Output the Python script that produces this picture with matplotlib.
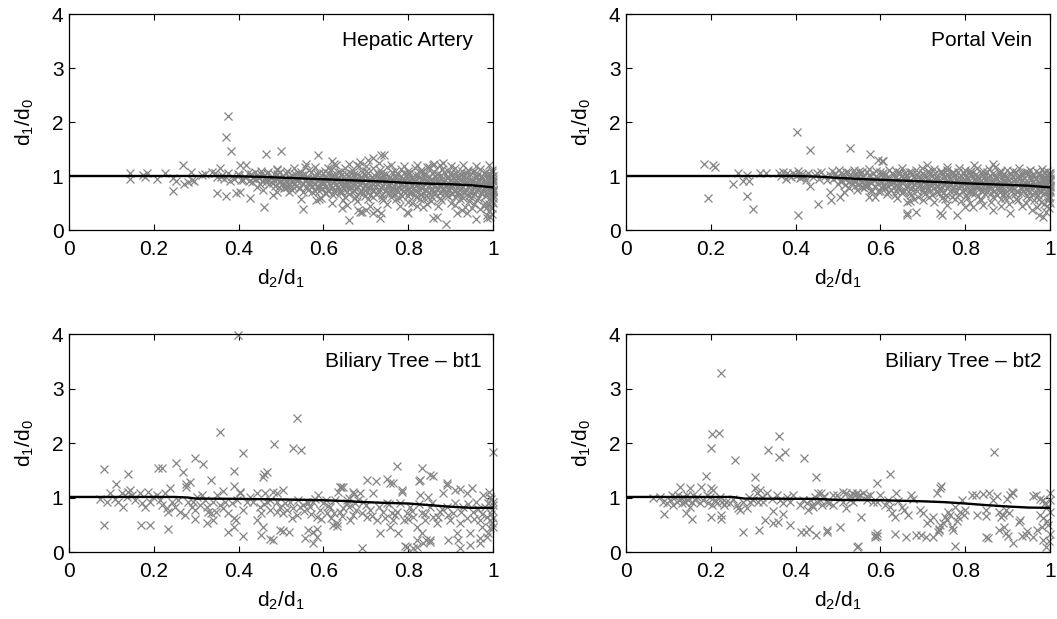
import matplotlib
matplotlib.use("Agg")
import matplotlib.pyplot as plt
import numpy as np

plt.rcParams['font.family'] = ['Liberation Sans', 'DejaVu Sans']
plt.rcParams['mathtext.fontset'] = 'custom'
plt.rcParams['mathtext.rm'] = 'Liberation Sans'
plt.rcParams['mathtext.it'] = 'Liberation Sans'

titles = ["Hepatic Artery", "Portal Vein", "Biliary Tree \u2013 bt1", "Biliary Tree \u2013 bt2"]
x_ticks = [0, 0.2, 0.4, 0.6, 0.8, 1]
x_tick_labels = ["0", "0.2", "0.4", "0.6", "0.8", "1"]
y_ticks = [0, 1, 2, 3, 4]

# ---------------- Hepatic Artery ----------------
ha_pts = [
    (0.144, 1.06), (0.144, 0.94), (0.175, 1.02), (0.185, 1.05), (0.18, 0.98), (0.207, 0.94),
    (0.226, 1.05), (0.246, 0.73), (0.246, 0.96), (0.252, 0.9), (0.268, 1.2), (0.271, 0.86),
    (0.281, 0.88), (0.287, 1.08), (0.29, 0.93), (0.295, 0.9), (0.313, 1.02), (0.321, 1.04),
    (0.337, 1.08), (0.344, 1.05), (0.355, 1.14), (0.348, 0.99), (0.358, 0.99), (0.348, 0.69),
    (0.37, 0.63), (0.375, 2.11), (0.37, 1.73), (0.381, 1.46), (0.403, 1.2), (0.417, 1.2),
    (0.395, 0.68), (0.403, 0.71), (0.427, 0.6), (0.431, 0.89), (0.443, 0.8), (0.45, 0.86),
    (0.458, 0.74), (0.465, 1.4), (0.461, 0.42), (0.482, 0.65), (0.49, 0.71), (0.49, 1.12),
    (0.5, 1.46), (0.513, 0.8), (0.52, 0.71), (0.546, 0.57), (0.551, 0.39), (0.56, 1.23),
    (0.557, 1.17), (0.583, 0.55), (0.59, 0.58), (0.594, 0.6), (0.588, 1.38), (0.61, 1.14),
    (0.62, 1.28), (0.625, 1.23), (0.61, 0.72), (0.643, 0.4), (0.647, 0.56), (0.66, 0.19),
    (0.68, 1.2), (0.682, 0.37), (0.686, 1.26), (0.706, 1.3), (0.718, 1.33), (0.737, 1.38),
    (0.743, 1.38), (0.733, 0.22), (0.737, 0.31), (0.726, 0.37), (0.718, 0.31), (0.7, 0.37),
    (0.69, 0.34), (0.71, 0.45), (0.686, 0.34), (0.796, 0.34), (0.8, 0.31), (0.82, 0.45),
    (0.835, 0.42), (0.867, 0.25), (0.858, 0.22), (0.89, 0.11), (0.914, 0.31), (0.926, 0.37),
    (0.938, 0.31), (0.95, 0.4), (0.96, 0.2), (0.985, 0.22), (0.985, 0.28), (0.993, 0.25),
    (0.997, 0.4), (0.985, 0.43), (0.82, 1.2), (0.844, 1.17), (0.875, 1.2), (0.883, 1.24),
    (0.858, 1.2), (0.385, 1.0), (0.39, 0.95), (0.398, 1.03), (0.405, 0.92), (0.38, 0.9),
    (0.375, 1.05), (0.365, 0.95), (0.36, 1.02),
    # upper part of the band
    (0.452, 1.1), (0.47, 1.08), (0.49, 1.13), (0.515, 1.09), (0.53, 1.14), (0.548, 1.07),
    (0.566, 1.12), (0.58, 1.16), (0.603, 1.1), (0.617, 1.13), (0.634, 1.08), (0.65, 1.15),
    (0.668, 1.11), (0.684, 1.18), (0.7, 1.09), (0.716, 1.14), (0.733, 1.12), (0.751, 1.17),
    (0.768, 1.1), (0.782, 1.13), (0.8, 1.09), (0.815, 1.15), (0.831, 1.11), (0.848, 1.16),
    (0.862, 1.08), (0.879, 1.13), (0.894, 1.1), (0.91, 1.14), (0.926, 1.09), (0.941, 1.12),
    (0.955, 1.1), (0.97, 1.13), (0.984, 1.07), (0.997, 1.11),
    (0.63, 1.2), (0.66, 1.22), (0.7, 1.19), (0.73, 1.24), (0.76, 1.21), (0.79, 1.18),
    (0.86, 1.22), (0.9, 1.19), (0.93, 1.21), (0.96, 1.18), (0.99, 1.2),
    # around 1.05
    (0.423, 1.05), (0.438, 1.07), (0.452, 1.04), (0.467, 1.06), (0.483, 1.03), (0.497, 1.07),
    (0.512, 1.05), (0.527, 1.02), (0.541, 1.06), (0.557, 1.04), (0.571, 1.07), (0.586, 1.03),
    (0.598, 1.06), (0.612, 1.05), (0.626, 1.02), (0.639, 1.07), (0.653, 1.04), (0.666, 1.06),
    (0.679, 1.03), (0.692, 1.07), (0.706, 1.05), (0.72, 1.02), (0.735, 1.06), (0.748, 1.04),
    (0.762, 1.07), (0.775, 1.03), (0.789, 1.06), (0.803, 1.05), (0.817, 1.02), (0.83, 1.07),
    (0.843, 1.04), (0.857, 1.06), (0.87, 1.03), (0.884, 1.07), (0.898, 1.04), (0.912, 1.06),
    (0.925, 1.02), (0.938, 1.05), (0.952, 1.07), (0.965, 1.03), (0.979, 1.06), (0.992, 1.04),
    # around 1.0
    (0.4, 1.01), (0.415, 0.98), (0.43, 1.03), (0.445, 0.99), (0.46, 1.02), (0.476, 0.97),
    (0.49, 1.04), (0.505, 1.0), (0.52, 0.98), (0.534, 1.03), (0.55, 1.01), (0.562, 0.96),
    (0.577, 1.02), (0.59, 1.05), (0.605, 0.99), (0.62, 1.01), (0.631, 0.97), (0.645, 1.03),
    (0.66, 1.0), (0.673, 1.04), (0.688, 0.98), (0.7, 1.02), (0.714, 0.99), (0.728, 1.03),
    (0.741, 1.01), (0.755, 0.97), (0.769, 1.02), (0.782, 1.0), (0.796, 1.04), (0.81, 0.98),
    (0.823, 1.01), (0.837, 1.03), (0.85, 0.99), (0.864, 1.0), (0.877, 1.02), (0.891, 0.97),
    (0.905, 1.03), (0.918, 0.99), (0.932, 1.01), (0.946, 1.04), (0.959, 0.98), (0.972, 1.0),
    (0.985, 1.02), (0.998, 0.99),
    # around 0.96
    (0.433, 0.96), (0.448, 0.97), (0.462, 0.95), (0.478, 0.98), (0.493, 0.96), (0.507, 0.94),
    (0.521, 0.97), (0.536, 0.95), (0.549, 0.98), (0.564, 0.96), (0.579, 0.94), (0.592, 0.97),
    (0.607, 0.95), (0.622, 0.98), (0.636, 0.96), (0.649, 0.94), (0.663, 0.97), (0.676, 0.95),
    (0.69, 0.98), (0.703, 0.96), (0.717, 0.94), (0.731, 0.97), (0.744, 0.95), (0.758, 0.98),
    (0.772, 0.96), (0.785, 0.94), (0.799, 0.97), (0.812, 0.95), (0.826, 0.98), (0.839, 0.96),
    (0.853, 0.94), (0.867, 0.97), (0.88, 0.95), (0.894, 0.98), (0.907, 0.96), (0.921, 0.94),
    (0.935, 0.97), (0.948, 0.95), (0.962, 0.98), (0.975, 0.96), (0.988, 0.94),
    # around 0.92
    (0.41, 0.93), (0.425, 0.9), (0.44, 0.94), (0.455, 0.91), (0.468, 0.95), (0.483, 0.92),
    (0.498, 0.89), (0.512, 0.93), (0.526, 0.91), (0.54, 0.95), (0.556, 0.9), (0.57, 0.93),
    (0.584, 0.92), (0.598, 0.88), (0.611, 0.94), (0.626, 0.91), (0.64, 0.93), (0.654, 0.9),
    (0.667, 0.95), (0.681, 0.92), (0.694, 0.89), (0.708, 0.93), (0.722, 0.91), (0.736, 0.94),
    (0.749, 0.9), (0.762, 0.92), (0.776, 0.88), (0.789, 0.93), (0.803, 0.91), (0.817, 0.89),
    (0.83, 0.94), (0.844, 0.9), (0.857, 0.92), (0.871, 0.91), (0.884, 0.88), (0.898, 0.93),
    (0.912, 0.9), (0.925, 0.92), (0.939, 0.89), (0.952, 0.91), (0.965, 0.93), (0.978, 0.9),
    (0.991, 0.92),
    # around 0.88
    (0.465, 0.88), (0.48, 0.87), (0.495, 0.89), (0.51, 0.86), (0.524, 0.88), (0.538, 0.9),
    (0.553, 0.87), (0.567, 0.89), (0.581, 0.86), (0.595, 0.88), (0.608, 0.9), (0.622, 0.87),
    (0.636, 0.89), (0.65, 0.86), (0.664, 0.88), (0.677, 0.9), (0.691, 0.87), (0.705, 0.89),
    (0.718, 0.86), (0.732, 0.88), (0.746, 0.9), (0.759, 0.87), (0.773, 0.89), (0.786, 0.86),
    (0.8, 0.88), (0.814, 0.9), (0.827, 0.87), (0.841, 0.89), (0.854, 0.86), (0.868, 0.88),
    (0.881, 0.9), (0.895, 0.87), (0.908, 0.89), (0.922, 0.86), (0.935, 0.88), (0.949, 0.9),
    (0.962, 0.87), (0.976, 0.89), (0.989, 0.86),
    # around 0.84
    (0.472, 0.85), (0.487, 0.82), (0.503, 0.86), (0.519, 0.83), (0.535, 0.81), (0.552, 0.85),
    (0.568, 0.84), (0.585, 0.8), (0.6, 0.86), (0.615, 0.83), (0.629, 0.85), (0.643, 0.81),
    (0.657, 0.84), (0.671, 0.82), (0.686, 0.86), (0.699, 0.83), (0.713, 0.8), (0.727, 0.85),
    (0.74, 0.82), (0.754, 0.84), (0.767, 0.81), (0.781, 0.86), (0.794, 0.83), (0.808, 0.82),
    (0.821, 0.85), (0.835, 0.8), (0.848, 0.84), (0.862, 0.82), (0.875, 0.86), (0.889, 0.81),
    (0.902, 0.83), (0.916, 0.85), (0.929, 0.8), (0.943, 0.84), (0.956, 0.82), (0.969, 0.85),
    (0.983, 0.81), (0.996, 0.83),
    # around 0.8
    (0.495, 0.8), (0.51, 0.79), (0.527, 0.81), (0.543, 0.78), (0.558, 0.8), (0.574, 0.82),
    (0.59, 0.79), (0.605, 0.81), (0.62, 0.78), (0.635, 0.8), (0.65, 0.82), (0.664, 0.79),
    (0.679, 0.81), (0.693, 0.78), (0.707, 0.8), (0.721, 0.82), (0.735, 0.79), (0.749, 0.81),
    (0.763, 0.78), (0.777, 0.8), (0.791, 0.82), (0.805, 0.79), (0.819, 0.81), (0.833, 0.78),
    (0.846, 0.8), (0.86, 0.82), (0.874, 0.79), (0.887, 0.81), (0.901, 0.78), (0.914, 0.8),
    (0.928, 0.82), (0.941, 0.79), (0.955, 0.81), (0.968, 0.78), (0.982, 0.8), (0.995, 0.82),
    # around 0.76
    (0.506, 0.77), (0.525, 0.74), (0.545, 0.78), (0.563, 0.75), (0.58, 0.72), (0.597, 0.77),
    (0.612, 0.74), (0.628, 0.76), (0.642, 0.73), (0.658, 0.78), (0.672, 0.75), (0.688, 0.72),
    (0.703, 0.77), (0.717, 0.74), (0.732, 0.76), (0.746, 0.73), (0.76, 0.78), (0.774, 0.75),
    (0.788, 0.72), (0.802, 0.76), (0.816, 0.74), (0.83, 0.77), (0.843, 0.73), (0.857, 0.75),
    (0.87, 0.78), (0.884, 0.74), (0.897, 0.76), (0.911, 0.72), (0.924, 0.77), (0.937, 0.75),
    (0.95, 0.73), (0.963, 0.76), (0.976, 0.74), (0.989, 0.77), (0.999, 0.75),
    # around 0.71
    (0.553, 0.71), (0.572, 0.7), (0.59, 0.72), (0.607, 0.69), (0.624, 0.71), (0.64, 0.73),
    (0.656, 0.7), (0.671, 0.72), (0.686, 0.69), (0.702, 0.71), (0.717, 0.73), (0.731, 0.7),
    (0.746, 0.72), (0.761, 0.69), (0.776, 0.71), (0.79, 0.73), (0.805, 0.7), (0.819, 0.72),
    (0.834, 0.69), (0.848, 0.71), (0.862, 0.73), (0.876, 0.7), (0.89, 0.72), (0.904, 0.69),
    (0.918, 0.71), (0.932, 0.73), (0.946, 0.7), (0.96, 0.72), (0.973, 0.69), (0.987, 0.71),
    (0.999, 0.73),
    # around 0.67
    (0.603, 0.68), (0.622, 0.65), (0.641, 0.69), (0.66, 0.66), (0.677, 0.63), (0.693, 0.68),
    (0.709, 0.65), (0.724, 0.67), (0.739, 0.64), (0.755, 0.69), (0.77, 0.66), (0.786, 0.63),
    (0.801, 0.68), (0.816, 0.65), (0.831, 0.67), (0.846, 0.62), (0.86, 0.66), (0.875, 0.69),
    (0.889, 0.64), (0.903, 0.67), (0.917, 0.65), (0.931, 0.68), (0.944, 0.63), (0.958, 0.66),
    (0.971, 0.69), (0.985, 0.64), (0.997, 0.67),
    # around 0.62
    (0.652, 0.62), (0.675, 0.6), (0.697, 0.63), (0.718, 0.61), (0.739, 0.59), (0.759, 0.62),
    (0.779, 0.6), (0.799, 0.63), (0.818, 0.61), (0.837, 0.59), (0.856, 0.62), (0.875, 0.6),
    (0.893, 0.63), (0.911, 0.61), (0.929, 0.59), (0.947, 0.62), (0.964, 0.6), (0.981, 0.63),
    (0.997, 0.61),
    # lower fringe
    (0.705, 0.58), (0.74, 0.55), (0.772, 0.57), (0.8, 0.52), (0.827, 0.58), (0.853, 0.54),
    (0.878, 0.56), (0.9, 0.5), (0.922, 0.57), (0.943, 0.53), (0.962, 0.55), (0.98, 0.5),
    (0.995, 0.56), (0.978, 0.45), (0.995, 0.42), (0.99, 0.35), (0.997, 0.3),
    (0.62, 0.5), (0.655, 0.47), (0.68, 0.53), (0.75, 0.48), (0.78, 0.45), (0.81, 0.5),
    (0.845, 0.48), (0.87, 0.44), (0.91, 0.47), (0.935, 0.43), (0.955, 0.49), (0.97, 0.38),
    (0.99, 0.48),
    (1.0, 1.0), (0.999, 0.9), (0.998, 0.8), (0.999, 0.7), (1.0, 0.6), (0.998, 1.08),
    (1.0, 0.5), (0.999, 0.95), (0.998, 0.85), (1.0, 0.75), (0.999, 0.65),
]
ha_fit_x = [0, 0.1, 0.2, 0.3, 0.4, 0.45, 0.5, 0.55, 0.6, 0.65, 0.7, 0.75, 0.8, 0.85, 0.9, 0.95, 1.0]
ha_fit_y = [1.0, 1.0, 1.0, 1.0, 0.995, 0.985, 0.97, 0.955, 0.94, 0.925, 0.91, 0.895, 0.872, 0.858, 0.848, 0.828, 0.79]

# ---------------- Portal Vein ----------------
pv_pts = [
    (0.184, 1.22), (0.206, 1.2), (0.21, 1.17), (0.193, 0.6), (0.253, 0.86), (0.265, 1.05),
    (0.285, 1.02), (0.277, 0.9), (0.289, 0.9), (0.285, 0.63), (0.3, 0.39), (0.315, 1.05),
    (0.33, 1.05), (0.404, 1.82), (0.406, 0.28), (0.434, 1.49), (0.434, 0.82), (0.452, 0.48),
    (0.45, 1.05), (0.481, 0.71), (0.483, 0.56), (0.505, 0.62), (0.513, 0.71), (0.528, 1.51),
    (0.55, 1.1), (0.575, 1.4), (0.595, 1.3), (0.607, 1.28), (0.587, 0.62), (0.567, 0.81),
    (0.662, 0.52), (0.662, 0.31), (0.685, 0.34), (0.662, 0.28), (0.67, 0.53), (0.74, 0.31),
    (0.745, 0.28), (0.78, 0.28), (0.757, 0.46), (0.819, 0.43), (0.843, 0.46), (0.866, 0.37),
    (0.906, 0.31), (0.957, 0.37), (0.975, 0.28), (0.983, 0.25), (0.986, 0.49), (0.99, 0.34),
    (0.709, 1.2), (0.821, 1.2), (0.866, 1.22), (0.757, 1.17), (0.603, 1.27), (0.573, 0.62),
    (0.58, 0.72), (0.36, 1.05), (0.365, 1.0), (0.37, 1.08), (0.378, 0.95), (0.385, 1.02),
    (0.39, 0.98), (0.395, 1.05), (0.4, 1.0), (0.405, 1.1), (0.41, 0.96), (0.415, 1.03),
    (0.42, 1.0), (0.425, 0.93), (0.43, 1.06), (0.44, 0.98), (0.445, 1.02), (0.455, 0.95),
    (0.46, 1.08), (0.47, 1.0), (0.475, 0.92), (0.38, 1.06), (0.408, 1.04), (0.412, 0.98),
    # upper part of the band
    (0.485, 1.09), (0.503, 1.12), (0.52, 1.07), (0.538, 1.11), (0.556, 1.08), (0.572, 1.13),
    (0.589, 1.1), (0.606, 1.06), (0.621, 1.12), (0.637, 1.09), (0.652, 1.14), (0.667, 1.08),
    (0.683, 1.11), (0.698, 1.15), (0.713, 1.09), (0.727, 1.13), (0.742, 1.1), (0.757, 1.12),
    (0.771, 1.08), (0.786, 1.14), (0.8, 1.11), (0.814, 1.09), (0.829, 1.15), (0.843, 1.1),
    (0.857, 1.13), (0.871, 1.16), (0.885, 1.09), (0.899, 1.12), (0.913, 1.1), (0.927, 1.14),
    (0.94, 1.08), (0.954, 1.12), (0.967, 1.1), (0.981, 1.13), (0.994, 1.09),
    # around 1.06
    (0.492, 1.06), (0.507, 1.05), (0.523, 1.07), (0.539, 1.04), (0.553, 1.06), (0.568, 1.08),
    (0.583, 1.05), (0.598, 1.07), (0.613, 1.04), (0.628, 1.06), (0.643, 1.08), (0.658, 1.05),
    (0.672, 1.07), (0.686, 1.04), (0.7, 1.06), (0.714, 1.08), (0.728, 1.05), (0.742, 1.07),
    (0.756, 1.04), (0.77, 1.06), (0.784, 1.08), (0.797, 1.05), (0.811, 1.07), (0.825, 1.04),
    (0.838, 1.06), (0.852, 1.08), (0.865, 1.05), (0.879, 1.07), (0.892, 1.04), (0.906, 1.06),
    (0.919, 1.08), (0.933, 1.05), (0.946, 1.07), (0.96, 1.04), (0.973, 1.06), (0.986, 1.08),
    (0.998, 1.05),
    # around 1.02
    (0.48, 1.02), (0.495, 0.99), (0.511, 1.03), (0.527, 1.0), (0.543, 1.04), (0.558, 0.98),
    (0.574, 1.02), (0.59, 1.0), (0.604, 1.04), (0.618, 0.99), (0.633, 1.02), (0.647, 1.05),
    (0.661, 1.0), (0.675, 1.03), (0.689, 0.98), (0.703, 1.02), (0.717, 1.04), (0.731, 0.99),
    (0.745, 1.03), (0.759, 1.01), (0.772, 1.05), (0.786, 0.99), (0.8, 1.02), (0.813, 1.04),
    (0.827, 1.0), (0.841, 1.03), (0.854, 0.98), (0.868, 1.02), (0.881, 1.05), (0.895, 1.0),
    (0.908, 1.03), (0.922, 0.99), (0.935, 1.02), (0.948, 1.04), (0.961, 1.0), (0.974, 1.03),
    (0.987, 0.99), (0.999, 1.02),
    # around 0.98
    (0.497, 0.98), (0.513, 0.97), (0.529, 0.99), (0.545, 0.96), (0.56, 0.98), (0.576, 1.0),
    (0.591, 0.97), (0.606, 0.99), (0.621, 0.96), (0.636, 0.98), (0.65, 1.0), (0.664, 0.97),
    (0.679, 0.99), (0.693, 0.96), (0.707, 0.98), (0.721, 1.0), (0.735, 0.97), (0.749, 0.99),
    (0.763, 0.96), (0.777, 0.98), (0.79, 1.0), (0.804, 0.97), (0.818, 0.99), (0.831, 0.96),
    (0.845, 0.98), (0.859, 1.0), (0.872, 0.97), (0.886, 0.99), (0.899, 0.96), (0.912, 0.98),
    (0.926, 1.0), (0.939, 0.97), (0.952, 0.99), (0.966, 0.96), (0.979, 0.98), (0.992, 1.0),
    # around 0.94
    (0.488, 0.94), (0.504, 0.91), (0.519, 0.95), (0.535, 0.92), (0.551, 0.96), (0.566, 0.9),
    (0.582, 0.94), (0.597, 0.92), (0.611, 0.95), (0.626, 0.91), (0.64, 0.93), (0.654, 0.96),
    (0.668, 0.9), (0.682, 0.94), (0.696, 0.92), (0.71, 0.95), (0.724, 0.89), (0.738, 0.93),
    (0.752, 0.91), (0.765, 0.95), (0.779, 0.92), (0.793, 0.9), (0.806, 0.94), (0.82, 0.92),
    (0.834, 0.89), (0.847, 0.93), (0.861, 0.91), (0.874, 0.95), (0.888, 0.9), (0.901, 0.93),
    (0.915, 0.91), (0.928, 0.94), (0.942, 0.89), (0.955, 0.92), (0.968, 0.95), (0.981, 0.9),
    (0.994, 0.93),
    # around 0.9
    (0.51, 0.9), (0.526, 0.89), (0.542, 0.91), (0.557, 0.88), (0.573, 0.9), (0.588, 0.92),
    (0.603, 0.89), (0.618, 0.91), (0.632, 0.88), (0.647, 0.9), (0.661, 0.92), (0.675, 0.89),
    (0.689, 0.91), (0.703, 0.88), (0.717, 0.9), (0.731, 0.92), (0.745, 0.89), (0.759, 0.91),
    (0.772, 0.88), (0.786, 0.9), (0.8, 0.92), (0.813, 0.89), (0.827, 0.91), (0.841, 0.88),
    (0.854, 0.9), (0.868, 0.92), (0.881, 0.89), (0.894, 0.91), (0.908, 0.88), (0.921, 0.9),
    (0.934, 0.92), (0.947, 0.89), (0.96, 0.91), (0.974, 0.88), (0.987, 0.9), (0.999, 0.92),
    # around 0.86
    (0.5, 0.86), (0.516, 0.83), (0.532, 0.87), (0.548, 0.84), (0.563, 0.82), (0.579, 0.87),
    (0.594, 0.85), (0.609, 0.81), (0.624, 0.86), (0.638, 0.84), (0.652, 0.87), (0.666, 0.82),
    (0.68, 0.85), (0.694, 0.83), (0.708, 0.87), (0.722, 0.84), (0.735, 0.81), (0.749, 0.86),
    (0.763, 0.83), (0.776, 0.85), (0.79, 0.82), (0.803, 0.87), (0.817, 0.84), (0.83, 0.82),
    (0.844, 0.86), (0.857, 0.81), (0.871, 0.85), (0.884, 0.83), (0.897, 0.87), (0.911, 0.82),
    (0.924, 0.84), (0.937, 0.86), (0.95, 0.81), (0.963, 0.85), (0.976, 0.83), (0.989, 0.86),
    (0.999, 0.82),
    # around 0.82
    (0.54, 0.82), (0.556, 0.8), (0.571, 0.83), (0.587, 0.81), (0.602, 0.79), (0.617, 0.82),
    (0.632, 0.8), (0.646, 0.83), (0.661, 0.81), (0.675, 0.79), (0.69, 0.82), (0.704, 0.8),
    (0.718, 0.83), (0.732, 0.81), (0.746, 0.79), (0.76, 0.82), (0.774, 0.8), (0.788, 0.83),
    (0.801, 0.81), (0.815, 0.79), (0.829, 0.82), (0.842, 0.8), (0.856, 0.83), (0.87, 0.81),
    (0.883, 0.79), (0.897, 0.82), (0.91, 0.8), (0.924, 0.83), (0.937, 0.81), (0.95, 0.79),
    (0.964, 0.82), (0.977, 0.8), (0.99, 0.83),
    # around 0.77
    (0.525, 0.77), (0.545, 0.74), (0.562, 0.78), (0.578, 0.75), (0.595, 0.72), (0.611, 0.77),
    (0.626, 0.74), (0.641, 0.78), (0.656, 0.73), (0.671, 0.76), (0.686, 0.79), (0.701, 0.74),
    (0.715, 0.77), (0.73, 0.72), (0.744, 0.76), (0.758, 0.78), (0.772, 0.73), (0.786, 0.77),
    (0.8, 0.75), (0.814, 0.72), (0.828, 0.77), (0.841, 0.74), (0.855, 0.78), (0.868, 0.73),
    (0.882, 0.76), (0.895, 0.74), (0.909, 0.78), (0.922, 0.72), (0.935, 0.76), (0.948, 0.74),
    (0.961, 0.77), (0.974, 0.73), (0.987, 0.76), (0.999, 0.74),
    # around 0.72
    (0.6, 0.72), (0.618, 0.7), (0.636, 0.73), (0.653, 0.71), (0.67, 0.69), (0.686, 0.72),
    (0.702, 0.7), (0.718, 0.73), (0.733, 0.71), (0.748, 0.69), (0.764, 0.72), (0.779, 0.7),
    (0.794, 0.73), (0.809, 0.71), (0.823, 0.69), (0.838, 0.72), (0.852, 0.7), (0.867, 0.73),
    (0.881, 0.71), (0.895, 0.69), (0.909, 0.72), (0.923, 0.7), (0.937, 0.73), (0.951, 0.71),
    (0.965, 0.69), (0.978, 0.72), (0.992, 0.7),
    # around 0.67
    (0.615, 0.67), (0.634, 0.64), (0.652, 0.68), (0.671, 0.65), (0.689, 0.62), (0.706, 0.67),
    (0.722, 0.64), (0.738, 0.69), (0.754, 0.65), (0.77, 0.62), (0.785, 0.67), (0.801, 0.64),
    (0.816, 0.68), (0.831, 0.63), (0.846, 0.66), (0.86, 0.69), (0.875, 0.64), (0.889, 0.67),
    (0.903, 0.62), (0.917, 0.66), (0.931, 0.68), (0.945, 0.63), (0.958, 0.67), (0.972, 0.64),
    (0.985, 0.68), (0.998, 0.63),
    # around 0.6
    (0.64, 0.6), (0.68, 0.58), (0.715, 0.61), (0.745, 0.59), (0.775, 0.57), (0.805, 0.6),
    (0.835, 0.58), (0.865, 0.61), (0.895, 0.59), (0.92, 0.57), (0.95, 0.6), (0.975, 0.58),
    (0.996, 0.61),
    # lower fringe
    (0.7, 0.56), (0.726, 0.52), (0.752, 0.57), (0.79, 0.54), (0.812, 0.5), (0.838, 0.56),
    (0.86, 0.52), (0.884, 0.57), (0.903, 0.49), (0.925, 0.55), (0.944, 0.5), (0.963, 0.56),
    (0.978, 0.52), (0.995, 0.55), (0.992, 0.45), (0.998, 0.4), (0.97, 0.42), (0.935, 0.44),
    (0.885, 0.44), (0.8, 0.43),
    (1.0, 1.05), (0.999, 0.96), (0.998, 0.88), (1.0, 0.8), (0.999, 0.7), (0.998, 0.6),
    (1.0, 0.5), (0.999, 0.91), (0.998, 0.74),
]
pv_fit_x = [0, 0.1, 0.2, 0.3, 0.4, 0.45, 0.5, 0.55, 0.6, 0.65, 0.7, 0.75, 0.8, 0.85, 0.9, 0.95, 1.0]
pv_fit_y = [1.0, 1.0, 1.0, 1.0, 1.0, 0.99, 0.965, 0.945, 0.93, 0.915, 0.9, 0.885, 0.865, 0.85, 0.835, 0.82, 0.79]

# ---------------- Biliary Tree - bt1 ----------------
bt1_pts = [
    (0.398, 3.99), (0.537, 2.45), (0.355, 2.2), (0.483, 1.98), (0.529, 1.9), (0.547, 1.87),
    (0.41, 1.81), (0.083, 1.52), (0.14, 1.43), (0.11, 1.25), (0.209, 1.55), (0.219, 1.55),
    (0.253, 1.64), (0.268, 1.46), (0.296, 1.72), (0.315, 1.61), (0.336, 1.33), (0.276, 1.24),
    (0.285, 1.29), (0.388, 1.49), (0.388, 1.22), (0.403, 1.1), (0.364, 1.12), (0.459, 1.43),
    (0.466, 1.47), (0.457, 1.38), (0.083, 0.5), (0.17, 0.5), (0.191, 0.5), (0.233, 0.42),
    (0.296, 0.6), (0.325, 0.53), (0.34, 0.58), (0.346, 0.73), (0.376, 0.37), (0.388, 0.46),
    (0.395, 0.59), (0.41, 0.3), (0.443, 0.59), (0.454, 0.31), (0.458, 0.46), (0.482, 0.22),
    (0.497, 0.4), (0.505, 0.38), (0.52, 0.37), (0.556, 0.25), (0.576, 0.17), (0.584, 0.28),
    (0.563, 0.4), (0.576, 0.37), (0.584, 0.42), (0.623, 0.5), (0.631, 0.47), (0.639, 1.2),
    (0.635, 1.1), (0.661, 0.99), (0.672, 1.06), (1.0, 1.84), (0.773, 1.58), (0.832, 1.54),
    (0.859, 1.4), (0.724, 1.31), (0.749, 1.34), (0.765, 1.27), (0.825, 1.31), (0.891, 1.26),
    (0.922, 1.15), (0.95, 1.17), (0.642, 1.2), (0.505, 1.14), (0.49, 1.08), (0.474, 0.23),
    (0.69, 0.08), (0.792, 0.11), (0.812, 0.07), (0.82, 0.1), (0.836, 0.16), (0.851, 0.22),
    (0.922, 0.07), (0.946, 0.13), (0.969, 0.25),
    # left band
    (0.073, 0.98), (0.089, 0.92), (0.097, 1.08), (0.108, 0.98), (0.116, 0.92), (0.124, 1.08),
    (0.128, 0.83), (0.136, 1.01), (0.14, 1.11), (0.144, 1.14), (0.148, 1.05), (0.156, 0.95),
    (0.168, 1.08), (0.171, 0.89), (0.179, 0.83), (0.187, 1.11), (0.191, 0.92), (0.199, 1.01),
    (0.207, 1.05), (0.215, 0.95), (0.219, 0.86), (0.226, 1.08), (0.23, 0.8), (0.234, 0.74),
    (0.238, 1.17), (0.242, 0.92), (0.25, 0.83), (0.258, 0.95), (0.262, 0.74), (0.274, 0.68),
    (0.277, 1.2), (0.281, 0.92), (0.289, 0.83), (0.293, 0.92), (0.297, 0.77), (0.301, 1.01),
    (0.309, 0.86), (0.313, 1.05), (0.321, 0.95), (0.325, 0.83), (0.329, 0.74), (0.336, 0.71),
    (0.34, 0.92), (0.348, 1.05), (0.356, 0.86), (0.364, 0.8), (0.368, 0.92), (0.376, 0.71),
    (0.384, 0.89), (0.388, 0.62), (0.396, 0.95), (0.403, 1.08), (0.411, 0.77), (0.419, 0.92),
    (0.427, 1.01), (0.435, 0.92), (0.443, 1.08), (0.45, 0.83), (0.454, 0.71), (0.462, 1.08),
    (0.466, 0.92), (0.474, 0.77), (0.482, 1.11), (0.49, 0.92), (0.498, 0.83), (0.505, 0.71),
    (0.513, 0.77), (0.521, 0.92), (0.529, 0.8), (0.537, 0.68), (0.545, 0.83), (0.553, 0.86),
    (0.561, 0.92), (0.564, 0.89), (0.568, 0.83), (0.576, 0.92), (0.584, 0.65), (0.588, 1.05),
    (0.592, 0.77), (0.6, 0.89), (0.608, 0.71), (0.616, 0.83), (0.619, 0.62), (0.627, 0.95),
    (0.631, 0.53), (0.639, 0.74), (0.647, 0.8), (0.655, 0.89), (0.663, 0.59), (0.67, 0.68),
    (0.678, 0.77), (0.682, 0.95),
    (0.46, 0.88), (0.475, 0.96), (0.49, 0.74), (0.51, 0.9), (0.525, 0.62), (0.54, 0.96),
    (0.555, 0.75), (0.57, 0.7), (0.58, 0.98), (0.595, 0.6), (0.605, 0.95), (0.612, 0.84),
    (0.625, 0.72), (0.645, 0.66), (0.66, 0.82), (0.675, 0.9), (0.69, 0.72), (0.7, 0.86),
    (0.715, 0.66), (0.73, 0.82), (0.745, 0.62), (0.755, 0.88), (0.77, 0.68), (0.78, 0.9),
    (0.8, 0.6), (0.81, 0.76), (0.825, 0.88), (0.84, 0.7), (0.855, 0.9), (0.87, 0.64),
    (0.88, 0.78), (0.895, 0.68), (0.91, 0.9), (0.925, 0.74), (0.94, 0.88), (0.955, 0.6),
    (0.965, 0.78), (0.975, 0.7), (0.988, 0.9), (0.993, 0.44),
    # right band
    (0.647, 1.2), (0.655, 0.95), (0.67, 1.11), (0.686, 1.08), (0.694, 0.92), (0.702, 0.65),
    (0.71, 0.77), (0.718, 1.08), (0.726, 0.59), (0.733, 0.34), (0.741, 0.74), (0.749, 0.89),
    (0.757, 0.46), (0.761, 0.71), (0.765, 0.59), (0.773, 0.74), (0.777, 0.34), (0.785, 1.11),
    (0.789, 0.59), (0.796, 0.71), (0.804, 0.83), (0.812, 0.65), (0.82, 0.46), (0.828, 1.05),
    (0.832, 0.71), (0.839, 0.59), (0.847, 1.01), (0.851, 0.83), (0.859, 0.65), (0.867, 0.53),
    (0.875, 0.74), (0.883, 1.08), (0.891, 0.83), (0.898, 0.59), (0.906, 0.71), (0.914, 0.34),
    (0.922, 0.53), (0.93, 0.83), (0.938, 0.62), (0.946, 0.34), (0.953, 0.74), (0.961, 0.92),
    (0.969, 0.59), (0.973, 0.46), (0.977, 1.05), (0.981, 0.83), (0.985, 0.65), (0.989, 0.34),
    (0.993, 1.01), (0.997, 0.77), (0.997, 0.53), (0.999, 0.92), (1.0, 0.62),
    (0.702, 1.32), (0.757, 1.26), (0.828, 1.32), (0.851, 1.41), (0.785, 1.14), (0.891, 1.23),
    (0.91, 1.14), (0.938, 1.08), (0.82, 0.22), (0.796, 0.1), (0.894, 0.22), (0.918, 0.22),
    (0.969, 0.16), (0.985, 0.28), (0.832, 0.34), (0.843, 0.22), (0.851, 0.19),
    (0.99, 1.1), (0.995, 0.98), (1.0, 0.86), (0.996, 0.7), (1.0, 0.45), (0.994, 0.58),
]
bt1_fit_x = [0, 0.1, 0.2, 0.25, 0.28, 0.3, 0.4, 0.5, 0.6, 0.65, 0.7, 0.75, 0.8, 0.85, 0.9, 0.95, 1.0]
bt1_fit_y = [1.01, 1.01, 1.01, 1.01, 1.0, 0.98, 0.975, 0.965, 0.95, 0.935, 0.915, 0.9, 0.89, 0.86, 0.83, 0.81, 0.81]

# ---------------- Biliary Tree - bt2 ----------------
bt2_pts = [
    (0.223, 3.28), (0.204, 2.17), (0.219, 2.19), (0.2, 1.9), (0.256, 1.69), (0.336, 1.87),
    (0.362, 2.13), (0.36, 1.74), (0.374, 1.84), (0.42, 1.72), (0.189, 1.4), (0.305, 1.37),
    (0.448, 1.37), (0.127, 1.2), (0.151, 1.17), (0.178, 1.2), (0.2, 1.17), (0.064, 0.99),
    (0.09, 0.69), (0.155, 0.6), (0.142, 0.71), (0.2, 0.64), (0.225, 0.68), (0.225, 0.6),
    (0.277, 0.36), (0.314, 0.4), (0.329, 0.58), (0.347, 0.53), (0.359, 0.55), (0.347, 0.75),
    (0.371, 0.69), (0.386, 0.5), (0.413, 0.37), (0.425, 0.37), (0.432, 0.43), (0.448, 0.31),
    (0.475, 0.37), (0.505, 0.46), (0.545, 0.1), (0.555, 0.65), (0.591, 0.34), (0.591, 0.3),
    (0.591, 1.26), (0.867, 1.84), (0.623, 1.43), (0.742, 1.21), (0.74, 1.17), (0.91, 1.11),
    (0.906, 1.05), (0.548, 0.11), (0.775, 0.11), (0.912, 0.16), (0.96, 0.28), (0.991, 0.1),
    (0.983, 0.22), (0.473, 0.4), (0.587, 0.31), (0.587, 0.27), (0.634, 0.33), (0.66, 0.27),
    (0.634, 0.65), (0.685, 0.31), (0.696, 0.32), (0.708, 0.28), (0.723, 0.28), (0.735, 0.37),
    (0.738, 0.4), (0.849, 0.28), (0.853, 0.25), (0.849, 0.66), (0.88, 0.74), (0.884, 0.65),
    (0.888, 0.68), (0.896, 0.77), (0.903, 0.71), (0.88, 0.4), (0.892, 0.46), (0.896, 0.35),
    (0.9, 0.3), (0.927, 0.55), (0.935, 0.29), (0.943, 0.32), (0.825, 1.05), (0.841, 1.06),
    (0.857, 1.08),
    # left band
    (0.08, 1.01), (0.088, 0.92), (0.096, 0.89), (0.104, 0.95), (0.108, 1.05), (0.112, 0.86),
    (0.116, 1.01), (0.12, 0.92), (0.123, 1.05), (0.127, 0.98), (0.131, 0.89), (0.135, 1.01),
    (0.139, 0.92), (0.143, 1.04), (0.147, 0.95), (0.151, 0.83), (0.155, 0.92), (0.159, 1.05),
    (0.163, 0.95), (0.167, 1.01), (0.175, 0.89), (0.182, 0.95), (0.19, 1.04), (0.194, 0.89),
    (0.198, 1.01), (0.202, 0.86), (0.206, 1.14), (0.21, 0.95), (0.214, 0.89), (0.222, 1.01),
    (0.226, 0.92), (0.23, 0.86), (0.237, 0.92), (0.245, 0.89), (0.253, 0.98), (0.261, 0.86),
    (0.265, 0.8), (0.269, 0.77), (0.277, 0.92), (0.285, 0.8), (0.289, 1.01), (0.292, 0.92),
    (0.3, 0.95), (0.304, 1.17), (0.308, 1.08), (0.312, 0.92), (0.316, 1.14), (0.32, 1.01),
    (0.324, 0.92), (0.332, 1.08), (0.344, 0.98), (0.355, 1.04), (0.363, 0.95), (0.371, 0.89),
    (0.379, 1.01), (0.387, 0.92), (0.395, 1.04), (0.41, 0.86), (0.418, 0.95), (0.426, 0.89),
    (0.43, 0.77), (0.434, 0.95), (0.438, 0.86), (0.442, 0.83), (0.446, 1.01), (0.45, 0.92),
    (0.454, 1.08), (0.458, 0.95), (0.462, 0.86), (0.466, 1.01), (0.473, 0.92), (0.489, 0.86),
    (0.497, 1.04), (0.512, 0.92), (0.52, 0.8), (0.528, 0.95), (0.532, 1.08), (0.536, 0.92),
    (0.544, 1.08), (0.548, 1.02), (0.552, 1.05), (0.56, 1.08), (0.568, 1.02), (0.575, 1.05),
    (0.583, 0.92), (0.591, 0.92),
    # right band
    (0.46, 1.08), (0.468, 1.02), (0.478, 0.89), (0.488, 1.05), (0.505, 0.98), (0.512, 1.11),
    (0.52, 1.08), (0.53, 1.02), (0.54, 1.05), (0.552, 1.04), (0.568, 0.95), (0.6, 1.05),
    (0.612, 0.86), (0.619, 0.95), (0.623, 0.83), (0.627, 0.71), (0.636, 1.08), (0.642, 0.93),
    (0.652, 0.83), (0.656, 0.77), (0.664, 0.68), (0.671, 1.05), (0.678, 0.98), (0.693, 0.77),
    (0.701, 0.71), (0.709, 0.53), (0.717, 0.59), (0.725, 0.65), (0.733, 1.08), (0.738, 0.43),
    (0.74, 0.5), (0.748, 0.53), (0.752, 0.65), (0.756, 0.59), (0.76, 0.74), (0.764, 0.68),
    (0.768, 0.46), (0.772, 0.4), (0.776, 0.83), (0.78, 0.56), (0.784, 0.65), (0.788, 0.74),
    (0.792, 0.95), (0.796, 0.68), (0.8, 0.77), (0.815, 1.05), (0.827, 0.68), (0.85, 0.77),
    (0.866, 0.95), (0.874, 1.02), (0.898, 0.97), (0.913, 1.08), (0.929, 0.59), (0.945, 0.38),
    (0.96, 1.02), (0.968, 1.05), (0.976, 0.98), (0.984, 0.95), (0.988, 0.89), (0.992, 0.83),
    (0.976, 0.68), (0.984, 0.62), (0.992, 0.56), (0.996, 0.5), (0.98, 0.46), (0.97, 0.4),
    (1.0, 1.08), (1.0, 0.95), (0.999, 0.74), (1.0, 0.33), (0.997, 0.2),
]
bt2_fit_x = [0, 0.1, 0.2, 0.25, 0.28, 0.45, 0.5, 0.6, 0.7, 0.75, 0.8, 0.85, 0.9, 0.95, 1.0]
bt2_fit_y = [1.01, 1.01, 1.01, 1.01, 0.98, 0.975, 0.955, 0.95, 0.93, 0.915, 0.89, 0.86, 0.835, 0.815, 0.81]

panels = [
    (ha_pts, ha_fit_x, ha_fit_y, 0.953),
    (pv_pts, pv_fit_x, pv_fit_y, 0.957),
    (bt1_pts, bt1_fit_x, bt1_fit_y, 0.973),
    (bt2_pts, bt2_fit_x, bt2_fit_y, 0.98),
]

fig = plt.figure(figsize=(10.57, 6.19), dpi=100)
# axes rectangles (left, bottom, width, height) in figure fractions
rects = [
    (69 / 1057, 1 - 230 / 619, 424 / 1057, 216 / 619),
    (626 / 1057, 1 - 230 / 619, 424 / 1057, 216 / 619),
    (69 / 1057, 1 - 552 / 619, 424 / 1057, 218 / 619),
    (626 / 1057, 1 - 552 / 619, 424 / 1057, 218 / 619),
]

for (pts, fx, fy, tx), title, rect in zip(panels, titles, rects):
    ax = fig.add_axes(rect)
    p = np.array(pts)
    ax.plot(p[:, 0], p[:, 1], linestyle='none', marker='x', color='#858585',
            markersize=5.5, markeredgewidth=0.9, clip_on=False, zorder=2)
    ax.plot(fx, fy, color='black', linewidth=1.7, zorder=3)
    ax.set_xlim(0, 1)
    ax.set_ylim(0, 4)
    ax.set_xticks(x_ticks)
    ax.set_xticklabels(x_tick_labels)
    ax.set_yticks(y_ticks)
    ax.tick_params(direction='in', top=True, right=True, length=4, width=0.8,
                   labelsize=15)
    ax.tick_params(axis='x', pad=7)
    ax.tick_params(axis='y', pad=4)
    for s in ax.spines.values():
        s.set_linewidth(0.9)
    ax.set_xlabel(r'd$_2$/d$_1$', fontsize=15)
    ax.set_ylabel(r'd$_1$/d$_0$', fontsize=15)
    ax.xaxis.set_label_coords(0.5, -0.175)
    ax.yaxis.set_label_coords(-0.078, 0.5)
    ax.text(tx, 0.85, title, transform=ax.transAxes, ha='right', va='baseline', fontsize=15)

fig.savefig('out.png', dpi=100)
